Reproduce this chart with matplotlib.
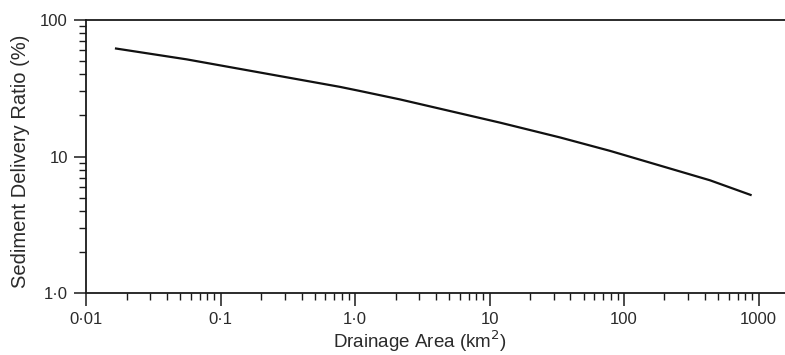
import matplotlib
matplotlib.use("Agg")
import matplotlib.pyplot as plt
from matplotlib.ticker import FixedLocator, LogLocator, NullFormatter

# Sediment delivery ratio curve
drainage_area = [0.0164, 0.056, 0.77, 1.09, 2.16, 12.0, 33.4, 78.7, 435.0, 889.0]
delivery_ratio = [62.0, 51.5, 32.4, 30.2, 26.2, 17.7, 13.8, 11.0, 6.7, 5.2]

x_ticks = [0.01, 0.1, 1.0, 10, 100, 1000]
x_tick_labels = ["0\u00b701", "0\u00b71", "1\u00b70", "10", "100", "1000"]
y_ticks = [1.0, 10, 100]
y_tick_labels = ["1\u00b70", "10", "100"]

plt.rcParams["font.family"] = ["Liberation Sans", "DejaVu Sans"]
text_color = "#2a2a2a"

fig = plt.figure(figsize=(7.85, 3.55), dpi=100)
ax = fig.add_axes([0.1096, 0.1746, 0.8904, 0.769])

ax.plot(drainage_area, delivery_ratio, color="#111111", linewidth=1.6,
        solid_capstyle="butt")

ax.set_xscale("log")
ax.set_yscale("log")
ax.set_xlim(0.01, 1574)
ax.set_ylim(1.0, 100)

ax.xaxis.set_major_locator(FixedLocator(x_ticks))
ax.set_xticklabels(x_tick_labels)
ax.xaxis.set_minor_locator(LogLocator(base=10, subs=range(2, 10)))
ax.xaxis.set_minor_formatter(NullFormatter())
ax.yaxis.set_major_locator(FixedLocator(y_ticks))
ax.set_yticklabels(y_tick_labels)
ax.yaxis.set_minor_locator(LogLocator(base=10, subs=range(2, 10)))
ax.yaxis.set_minor_formatter(NullFormatter())

ax.spines["right"].set_visible(False)
for side in ("left", "bottom", "top"):
    ax.spines[side].set_linewidth(1.3)
    ax.spines[side].set_color("#1a1a1a")

ax.tick_params(axis="both", which="major", direction="out", length=9,
               width=1.1, color="#1a1a1a", labelsize=12,
               labelcolor=text_color)
ax.tick_params(axis="both", which="minor", direction="out", length=5,
               width=1.0, color="#1a1a1a")
ax.tick_params(axis="x", which="major", pad=5)
ax.tick_params(axis="y", which="major", pad=4)
ax.tick_params(top=False, right=False, which="both")

ax.set_xlabel("Drainage Area (km$^2$)", fontsize=13.5, color=text_color,
              va="bottom")
ax.xaxis.set_label_coords(0.478, -0.222)
ax.set_ylabel("Sediment Delivery Ratio (%)", fontsize=14.5, color=text_color,
              va="center")
ax.yaxis.set_label_coords(-0.094, 0.483)

fig.savefig("out.png", dpi=100)
